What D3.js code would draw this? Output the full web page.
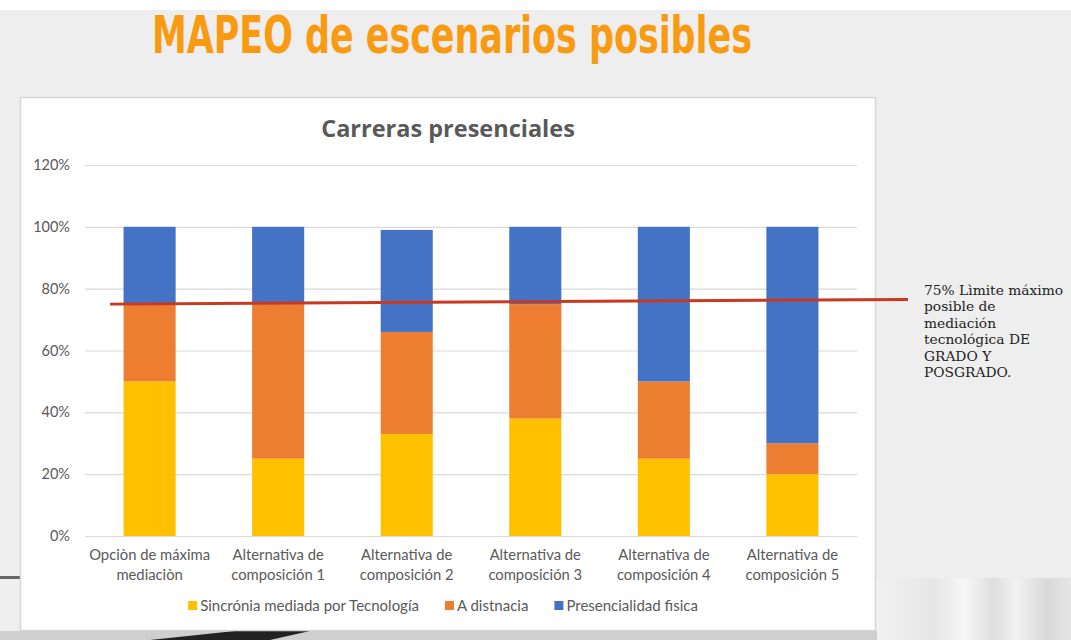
<!DOCTYPE html>
<html>
<head>
<meta charset="utf-8">
<script src="https://cdn.jsdelivr.net/npm/d3@7"></script>
<style>
  html, body { margin: 0; padding: 0; background: #fff; }
  svg { display: block; }
</style>
</head>
<body>
<svg id="chart" width="1071" height="640"></svg>
<script>
// Stacked shares per scenario (fractions of 1)
const categories = [
  ["Opciòn de máxima", "mediaciòn"],
  ["Alternativa de", "composición 1"],
  ["Alternativa de", "composición 2"],
  ["Alternativa de", "composición 3"],
  ["Alternativa de", "composición 4"],
  ["Alternativa de", "composición 5"]
];
const seriesNames = ["Sincrónia mediada por Tecnología", "A distnacia", "Presencialidad fisica"];
const sincronia = [0.50, 0.25, 0.33, 0.38, 0.25, 0.20];
const distancia = [0.25, 0.50, 0.33, 0.37, 0.25, 0.10];
const presencial = [0.25, 0.25, 0.33, 0.25, 0.50, 0.70];
const yTicks = [0, 0.2, 0.4, 0.6, 0.8, 1.0, 1.2];
const limitLine = [0.75, 0.765]; // hand-drawn limit, slightly tilted
const noteLines = ["75% Lìmite máximo", "posible de", "mediación", "tecnológica DE", "GRADO Y", "POSGRADO."];
const colors = ["#FFC000", "#ED7D31", "#4472C4"];

const svg = d3.select("#chart");
const W = 1071, H = 640;
const labelFont = "Lato, 'Open Sans', sans-serif";

// slide background
svg.append("rect").attr("x", 0).attr("y", 10).attr("width", W).attr("height", H - 10).attr("fill", "#eeeeee");
const defs = svg.append("defs");
const g1 = defs.append("linearGradient").attr("id", "photo").attr("x1", 0).attr("x2", 1).attr("y1", 0).attr("y2", 0);
[[0, "#f1f1f1"], [0.3, "#e6e6e6"], [0.45, "#f7f7f7"], [0.6, "#dedede"], [0.72, "#f2f2f2"], [0.88, "#d8d8d8"], [1, "#e6e6e6"]]
  .forEach(([o, c]) => g1.append("stop").attr("offset", o).attr("stop-color", c));
svg.append("rect").attr("x", 877).attr("y", 578).attr("width", W - 877).attr("height", H - 578).attr("fill", "url(#photo)");
svg.append("rect").attr("x", 0).attr("y", 631).attr("width", 877).attr("height", 9).attr("fill", "#cfcfcf");
svg.append("path").attr("d", "M150,640 L235,631 L310,631 L270,640 Z").attr("fill", "#222");
svg.append("rect").attr("x", 0).attr("y", 576).attr("width", 20).attr("height", 3).attr("fill", "#666");

// title
svg.append("text")
  .attr("x", 152).attr("y", 53)
  .attr("textLength", 600).attr("lengthAdjust", "spacingAndGlyphs")
  .style("font-family", "'DejaVu Sans Condensed', 'Open Sans', sans-serif")
  .style("font-stretch", "condensed")
  .style("font-weight", "bold").style("font-size", "51px")
  .attr("fill", "#F89B12")
  .text("MAPEO de escenarios posibles");

// chart card
svg.append("rect").attr("x", 20.5).attr("y", 97.5).attr("width", 855).attr("height", 533)
  .attr("fill", "#fff").attr("stroke", "#d6d6d6").attr("stroke-width", 1.5);

svg.append("text").attr("x", 448).attr("y", 137).attr("text-anchor", "middle")
  .style("font-family", "'Open Sans', sans-serif").style("font-weight", "bold").style("font-size", "23.5px")
  .attr("fill", "#595959").text("Carreras presenciales");

const x = d3.scaleBand().domain(d3.range(categories.length)).range([85, 857]).paddingInner(0.595).paddingOuter(0.3);
const y = d3.scaleLinear().domain([0, 1.2]).range([536, 165]);

const yAxis = svg.append("g").attr("transform", "translate(85,0)")
  .call(d3.axisLeft(y).tickValues(yTicks).tickFormat(d3.format(".0%")).tickSize(-772).tickPadding(15));
yAxis.select(".domain").remove();
yAxis.selectAll(".tick line").attr("stroke", "#d9d9d9").attr("stroke-width", 1.2);
yAxis.selectAll(".tick text").attr("fill", "#595959")
  .style("font-family", labelFont).style("font-size", "14.5px");

const rows = categories.map((c, i) => ({ i, s0: sincronia[i], s1: distancia[i], s2: presencial[i] }));
const stack = d3.stack().keys(["s0", "s1", "s2"])(rows);
svg.append("g").selectAll("g").data(stack).join("g")
  .attr("fill", (d, k) => colors[k])
  .selectAll("rect").data(d => d).join("rect")
  .attr("x", d => x(d.data.i)).attr("width", x.bandwidth())
  .attr("y", d => y(d[1])).attr("height", d => y(d[0]) - y(d[1]));

// x labels
const xl = svg.append("g").selectAll("text").data(categories).join("text")
  .attr("x", (d, i) => x(i) + x.bandwidth() / 2).attr("y", 560)
  .attr("text-anchor", "middle").attr("fill", "#595959")
  .style("font-family", labelFont).style("font-size", "14.8px");
xl.append("tspan").text(d => d[0]);
xl.append("tspan").attr("x", (d, i) => x(i) + x.bandwidth() / 2).attr("dy", 20).text(d => d[1]);

// legend, centred like Excel does it
const leg = svg.append("g").attr("transform", "translate(0,606)");
const items = leg.selectAll("g").data(seriesNames).join("g");
items.append("rect").attr("x", 0).attr("y", -5).attr("width", 9).attr("height", 9).attr("fill", (d, i) => colors[i]);
items.append("text").attr("x", 12).attr("y", 5).attr("fill", "#595959")
  .style("font-family", labelFont).style("font-size", "15px").text(d => d);
const widths = items.nodes().map(n => 12 + n.querySelector("text").getComputedTextLength());
const gap = 26;
const total = d3.sum(widths) + gap * (widths.length - 1);
let cx = 443 - total / 2;
items.attr("transform", (d, i) => { const t = `translate(${cx},0)`; cx += widths[i] + gap; return t; });

// limit annotation
svg.append("line")
  .attr("x1", 110).attr("x2", 908)
  .attr("y1", y(limitLine[0])).attr("y2", y(limitLine[1]))
  .attr("stroke", "#C9391F").attr("stroke-width", 3);

svg.append("text").attr("x", 924).attr("y", 295)
  .style("font-family", "'DejaVu Serif', serif").style("font-size", "13.8px").attr("fill", "#222")
  .selectAll("tspan").data(noteLines).join("tspan")
  .attr("x", 924).attr("dy", (d, i) => i ? 16.4 : 0).text(d => d);
</script>
</body>
</html>
